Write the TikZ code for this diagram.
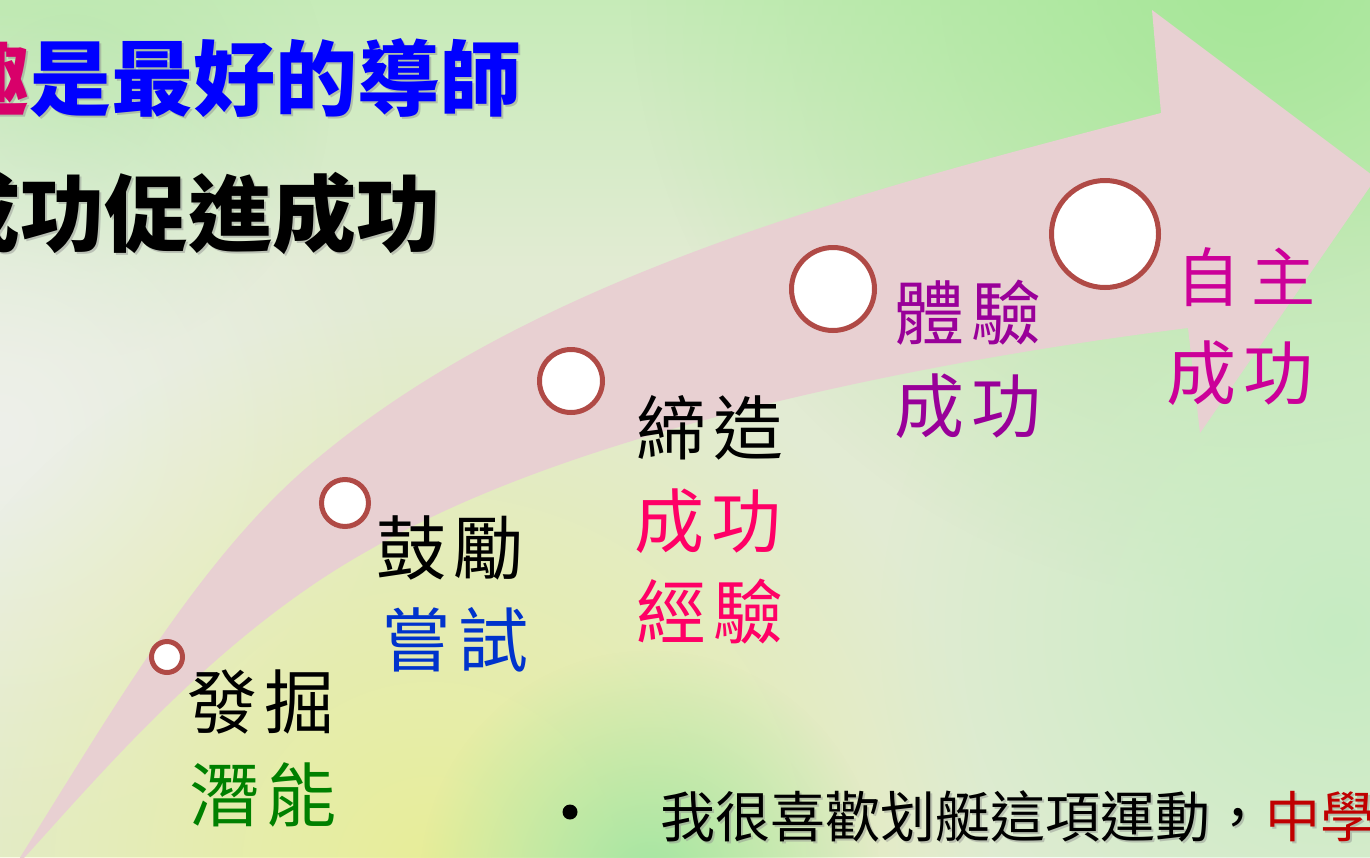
\documentclass[tikz,border=0pt]{standalone}
\usepackage{fontspec}
\newfontfamily\cjk{Noto Sans CJK TC}
\usetikzlibrary{fadings}
\definecolor{bgbase}{HTML}{E2EBD3}
\definecolor{bgtop}{HTML}{C6EBB8}
\definecolor{gtopright}{HTML}{A6E798}
\definecolor{gtopleft}{HTML}{BCE8B0}
\definecolor{gleft}{HTML}{EEF0EA}
\definecolor{gyellow}{HTML}{E8EE98}
\definecolor{gbotgreen}{HTML}{A4E6A2}
\definecolor{gright}{HTML}{C6ECC2}
\definecolor{arrowpink}{HTML}{E8D0D2}
\definecolor{ringbrown}{HTML}{B04A46}
\definecolor{tblue}{HTML}{0000FF}
\definecolor{tmag}{HTML}{D8006A}
\definecolor{lgreen}{HTML}{008000}
\definecolor{lblue}{HTML}{0033CC}
\definecolor{lpink}{HTML}{FF0066}
\definecolor{lpurple}{HTML}{990099}
\definecolor{lmag}{HTML}{CC0099}
\definecolor{dred}{HTML}{C00000}
\tikzfading[name=glowfade, inner color=transparent!0, outer color=transparent!100]
\tikzset{
  glow/.style={fill=#1, path fading=glowfade},
  ring/.style={circle, draw=ringbrown, line width=5pt, fill=white, inner sep=0pt, minimum size=#1},
  lab/.style={font=\cjk\fontsize{70}{70}\selectfont, inner sep=0pt},
  title/.style={font=\cjk\bfseries\fontsize{82}{82}\selectfont, inner sep=0pt},
  body/.style={font=\cjk\fontsize{55}{55}\selectfont, inner sep=0pt},
  shadowtext/.style={text=black!45, opacity=0.45}
}
\begin{document}
\begin{tikzpicture}[x=1pt,y=-1pt]
\clip (0,0) rectangle (1370,857);
% background
\fill[bgbase] (0,0) rectangle (1370,857);
\shade[top color=bgtop, bottom color=bgbase] (0,0) rectangle (1370,270);
\fill[glow=gtopright] (1250,-20) circle (620);
\fill[glow=gtopleft] (70,100) circle (260);
\fill[glow=gleft] (0,430) circle (420);
\fill[glow=gyellow] (430,870) circle (560);
\fill[glow=gbotgreen] (650,880) circle (230);
\fill[glow=gright] (1340,630) circle (460);
% curved arrow
\coordinate (tail) at (16,864);
\coordinate (um) at (312,463);
\coordinate (uc) at (1161,113);
\coordinate (ht) at (1152,10);
\coordinate (tip) at (1376,178);
\coordinate (hb) at (1200,433);
\coordinate (lc) at (1188,328);
\coordinate (lm) at (371,549);
\coordinate (lt) at (24,858);
\fill[arrowpink] (tail)
  .. controls (116,704) and (202,556) .. (um)
  .. controls (532,276) and (861,191) .. (uc)
  -- (ht) -- (tip) -- (hb) -- (lc)
  .. controls (918,362) and (571,432) .. (lm)
  .. controls (221,632) and (104,770) .. (lt)
  -- cycle;
% rings
\node[ring=31pt] (c1) at (167,657) {};
\node[ring=47pt] (c2) at (345,503) {};
\node[ring=63pt] (c3) at (571,381) {};
\node[ring=83pt] (c4) at (833,289) {};
\node[ring=107pt] (c5) at (1105,234) {};
% titles
\node[title, shadowtext, anchor=east] (t1s) at (524,80) {興趣是最好的導師};
\node[title, anchor=east] (t1) at (522,78) {{\color{tmag}興趣}{\color{tblue}是最好的導師}};
\node[title, shadowtext, anchor=east, font=\cjk\bfseries\fontsize{84}{84}\selectfont] (t2s) at (443,215) {成功促進成功};
\node[title, anchor=east, font=\cjk\bfseries\fontsize{84}{84}\selectfont] (t2) at (441,213) {成功促進成功};
% labels
\node[lab, text=black] (l1a) at (261,702) {發\hspace{8pt}掘};
\node[lab, text=lgreen] (l1b) at (263,795) {潛\hspace{8pt}能};
\node[lab, text=black] (l2a) at (450,548) {鼓\hspace{8pt}勵};
\node[lab, text=lblue] (l2b) at (455,640) {嘗\hspace{8pt}試};
\node[lab, text=black] (l3a) at (710,428) {締\hspace{8pt}造};
\node[lab, text=lpink] (l3b) at (708,521) {成\hspace{8pt}功};
\node[lab, text=lpink] (l3c) at (710,612) {經\hspace{8pt}驗};
\node[lab, text=lpurple] (l4a) at (968,313) {體\hspace{8pt}驗};
\node[lab, text=lpurple] (l4b) at (968,406) {成\hspace{8pt}功};
\node[lab, text=lmag, font=\cjk\fontsize{64}{64}\selectfont] (l5a) at (1246,277) {自\hspace{12pt}主};
\node[lab, text=lmag] (l5b) at (1240,373) {成\hspace{8pt}功};
% bottom bullet line
\node[circle, fill=black, inner sep=0pt, minimum size=15pt] (bul) at (570,812) {};
\node[body, shadowtext, anchor=west] (bts) at (662,818) {我很喜歡划艇這項運動，中學};
\node[body, anchor=west] (bt) at (660,816) {我很喜歡划艇這項運動，{\color{dred}中學}};
\end{tikzpicture}
\end{document}
